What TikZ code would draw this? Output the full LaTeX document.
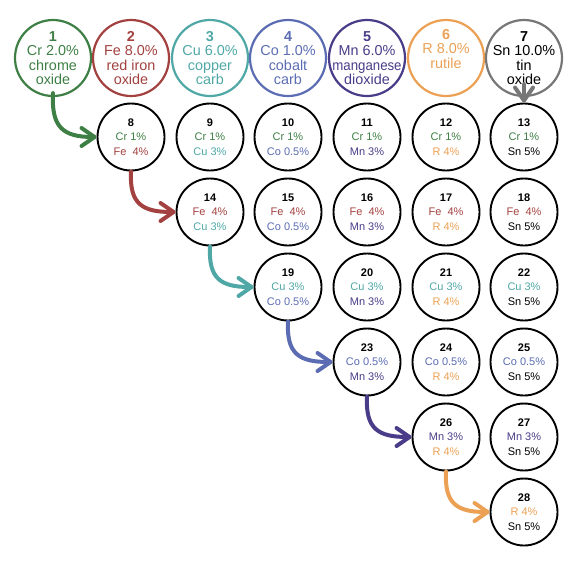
\documentclass[tikz,border=0pt]{standalone}
\usepackage{fontspec}
\setmainfont{Liberation Sans}
\usetikzlibrary{arrows.meta}
\definecolor{cCr}{HTML}{3E7F45}
\definecolor{cFe}{HTML}{A2413F}
\definecolor{cCu}{HTML}{4FA8A6}
\definecolor{cCo}{HTML}{5B6CB3}
\definecolor{cMn}{HTML}{4A3C88}
\definecolor{cR}{HTML}{EBA054}
\definecolor{cSn}{HTML}{777777}
\newcommand\eCr{\textcolor{cCr}{Cr 1\%}}
\newcommand\eFe{\textcolor{cFe}{Fe\ \ 4\%}}
\newcommand\eCu{\textcolor{cCu}{Cu 3\%}}
\newcommand\eCo{\textcolor{cCo}{Co 0.5\%}}
\newcommand\eMn{\textcolor{cMn}{Mn 3\%}}
\newcommand\eR{\textcolor{cR}{R 4\%}}
\newcommand\eSn{\textcolor{black}{Sn 5\%}}
\tikzset{
  topnode/.style={circle, minimum size=76pt, inner sep=-12pt, line width=2.2pt, align=center,
    font=\fontsize{14.4}{14.3}\selectfont},
  cell/.style={circle, draw=black, minimum size=67pt, inner sep=-6pt, line width=1.9pt, align=center,
    font=\fontsize{11}{14.3}\selectfont},
  flow/.style={line width=4pt, line cap=round,
    -{Straight Barb[length=13pt,width=18pt,round]}},
  swoop/.style={out=-93, in=180, looseness=1.4}
}
\begin{document}
\begin{tikzpicture}[x=1pt,y=-1pt]
\useasboundingbox (0,0) rectangle (588,566);
% top row
\node[topnode, draw=cCr, text=cCr] (n1) at (53,58) {\textbf{1}\\Cr 2.0\%\\chrome\\oxide};
\node[topnode, draw=cFe, text=cFe] (n2) at (131,58) {\textbf{2}\\Fe 8.0\%\\red iron\\oxide};
\node[topnode, draw=cCu, text=cCu] (n3) at (210,58) {\textbf{3}\\Cu 6.0\%\\copper\\carb};
\node[topnode, draw=cCo, text=cCo] (n4) at (288,58) {\textbf{4}\\Co 1.0\%\\cobalt\\carb};
\node[topnode, draw=cMn, text=cMn] (n5) at (367,58) {\textbf{5}\\Mn 6.0\%\\\scalebox{0.92}[1]{manganese}\\dioxide};
\node[topnode, draw=cR, text=cR] (n6) at (446,58) {\textbf{6}\\R 8.0\%\\rutile\\\strut};
\node[topnode, draw=cSn, text=black] (n7) at (524,58) {\textbf{7}\\Sn 10.0\%\\tin\\oxide};
% row 2
\node[cell] (n8) at (131,137) {\textbf{8}\\\eCr\\\eFe};
\node[cell] (n9) at (210,137) {\textbf{9}\\\eCr\\\eCu};
\node[cell] (n10) at (288,137) {\textbf{10}\\\eCr\\\eCo};
\node[cell] (n11) at (367,137) {\textbf{11}\\\eCr\\\eMn};
\node[cell] (n12) at (446,137) {\textbf{12}\\\eCr\\\eR};
\node[cell] (n13) at (524,137) {\textbf{13}\\\eCr\\\eSn};
% row 3
\node[cell] (n14) at (210,212) {\textbf{14}\\\eFe\\\eCu};
\node[cell] (n15) at (288,212) {\textbf{15}\\\eFe\\\eCo};
\node[cell] (n16) at (367,212) {\textbf{16}\\\eFe\\\eMn};
\node[cell] (n17) at (446,212) {\textbf{17}\\\eFe\\\eR};
\node[cell] (n18) at (524,212) {\textbf{18}\\\eFe\\\eSn};
% row 4
\node[cell] (n19) at (288,287) {\textbf{19}\\\eCu\\\eCo};
\node[cell] (n20) at (367,287) {\textbf{20}\\\eCu\\\eMn};
\node[cell] (n21) at (446,287) {\textbf{21}\\\eCu\\\eR};
\node[cell] (n22) at (524,287) {\textbf{22}\\\eCu\\\eSn};
% row 5
\node[cell] (n23) at (367,362) {\textbf{23}\\\eCo\\\eMn};
\node[cell] (n24) at (446,362) {\textbf{24}\\\eCo\\\eR};
\node[cell] (n25) at (524,362) {\textbf{25}\\\eCo\\\eSn};
% row 6
\node[cell] (n26) at (446,437) {\textbf{26}\\\eMn\\\eR};
\node[cell] (n27) at (524,437) {\textbf{27}\\\eMn\\\eSn};
% row 7
\node[cell] (n28) at (524,512) {\textbf{28}\\\eR\\\eSn};
% arrows
\draw[flow, cCr] ([yshift=4pt]n1.south) to[swoop] (n8.west);
\draw[flow, cFe] (n8.south) to[swoop] (n14.west);
\draw[flow, cCu] (n14.south) to[swoop] (n19.west);
\draw[flow, cCo] (n19.south) to[swoop] (n23.west);
\draw[flow, cMn] (n23.south) to[swoop] (n26.west);
\draw[flow, cR] (n26.south) to[swoop] (n28.west);
\draw[flow, cSn] ([yshift=13pt]n7.south) -- (n13.north);
\end{tikzpicture}
\end{document}
